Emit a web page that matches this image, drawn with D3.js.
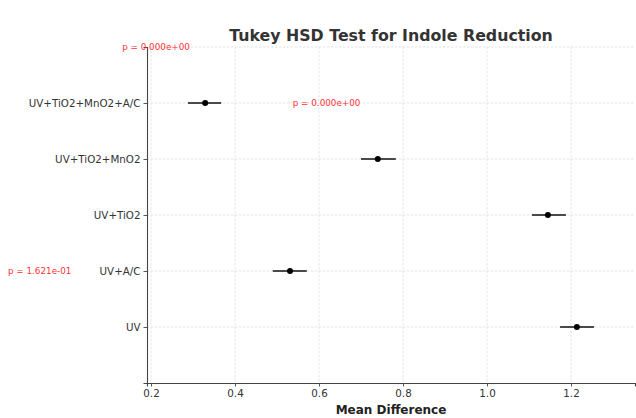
<!DOCTYPE html>
<html>
<head>
<meta charset="utf-8">
<script src="https://cdn.jsdelivr.net/npm/d3@7"></script>
<style>
  body { margin: 0; background: #fff; }
  svg { display: block; font-family: "DejaVu Sans", sans-serif; }
</style>
</head>
<body>
<script>
// groupes comparés (de bas en haut)
const groups = ["UV", "UV+A/C", "UV+TiO2", "UV+TiO2+MnO2", "UV+TiO2+MnO2+A/C"]
const meanDiff = [1.214, 0.531, 1.145, 0.740, 0.329]
const ciLow = [1.174, 0.490, 1.107, 0.700, 0.288]
const ciHigh = [1.255, 0.571, 1.188, 0.783, 0.367]

// annotations p (placées comme dans l'original)
const pLabels = ["p = 0.000e+00", "p = 0.000e+00", "p = 1.621e-01"]
const pX = [0.212, 0.618, -0.065]
const pY = [5, 4, 1]

const xTicks = [0.2, 0.4, 0.6, 0.8, 1.0, 1.2]

const WIDTH = 636
const HEIGHT = 418
const M_LEFT = 147, M_RIGHT = 635, M_TOP = 47, M_BOTTOM = 383

const svg = d3.select('body').append('svg')
  .attr('width', WIDTH)
  .attr('height', HEIGHT)

const xScale = d3.scaleLinear()
  .domain([0.1905, 1.3524])
  .range([M_LEFT, M_RIGHT])

const yScale = d3.scaleLinear()
  .domain([-1, 5])
  .range([M_BOTTOM, M_TOP])

// grille
const grid = svg.append('g')
  .attr('stroke', '#dcdcdc')
  .attr('stroke-width', 0.8)
  .attr('stroke-dasharray', '2.5,1.5')

grid.selectAll('.vx')
  .data(xTicks)
  .enter()
  .append('line')
  .attr('x1', d => xScale(d))
  .attr('x2', d => xScale(d))
  .attr('y1', M_TOP)
  .attr('y2', M_BOTTOM)

grid.selectAll('.hy')
  .data(d3.range(groups.length + 1))
  .enter()
  .append('line')
  .attr('x1', M_LEFT)
  .attr('x2', M_RIGHT)
  .attr('y1', d => yScale(d))
  .attr('y2', d => yScale(d))

// axes
const axisX = d3.axisBottom(xScale)
  .tickValues(xTicks)
  .tickFormat(d3.format('.1f'))
  .tickSizeOuter(0)
  .tickSize(3.5)
  .tickPadding(3)

const axisY = d3.axisLeft(yScale)
  .tickValues(d3.range(groups.length))
  .tickFormat(i => groups[i])
  .tickSizeOuter(0)
  .tickSize(3.5)
  .tickPadding(3)

const gx = svg.append('g')
  .attr('transform', `translate(0, ${M_BOTTOM})`)
  .call(axisX)

const gy = svg.append('g')
  .attr('transform', `translate(${M_LEFT}, 0)`)
  .call(axisY)

for (const g of [gx, gy]) {
  g.select('.domain').attr('stroke', '#444').attr('stroke-width', 1.1)
  g.selectAll('.tick line').attr('stroke', '#444').attr('stroke-width', 0.9)
  g.selectAll('.tick text')
    .attr('fill', '#333')
    .style('font-family', '"DejaVu Sans", sans-serif')
    .style('font-size', '10.3px')
}

// intervalles de confiance
svg.append('g').selectAll('line')
  .data(groups)
  .enter()
  .append('line')
  .attr('x1', (d, i) => xScale(ciLow[i]))
  .attr('x2', (d, i) => xScale(ciHigh[i]))
  .attr('y1', (d, i) => yScale(i))
  .attr('y2', (d, i) => yScale(i))
  .attr('stroke', '#111')
  .attr('stroke-width', 1.5)

svg.append('g').selectAll('circle')
  .data(groups)
  .enter()
  .append('circle')
  .attr('cx', (d, i) => xScale(meanDiff[i]))
  .attr('cy', (d, i) => yScale(i))
  .attr('r', 3)
  .attr('fill', '#000')

// textes p
svg.append('g').selectAll('text')
  .data(pLabels)
  .enter()
  .append('text')
  .attr('x', (d, i) => xScale(pX[i]))
  .attr('y', (d, i) => yScale(pY[i]))
  .attr('text-anchor', 'middle')
  .attr('dominant-baseline', 'central')
  .attr('fill', '#f33')
  .style('font-size', '8.8px')
  .text(d => d)

// titre et label
svg.append('text')
  .attr('x', (M_LEFT + M_RIGHT) / 2)
  .attr('y', 41)
  .attr('text-anchor', 'middle')
  .attr('fill', '#333')
  .style('font-size', '15.8px')
  .style('font-weight', 'bold')
  .text('Tukey HSD Test for Indole Reduction')

svg.append('text')
  .attr('x', (M_LEFT + M_RIGHT) / 2)
  .attr('y', 414)
  .attr('text-anchor', 'middle')
  .attr('fill', '#222')
  .style('font-size', '12px')
  .style('font-weight', 'bold')
  .text('Mean Difference')
</script>
</body>
</html>
